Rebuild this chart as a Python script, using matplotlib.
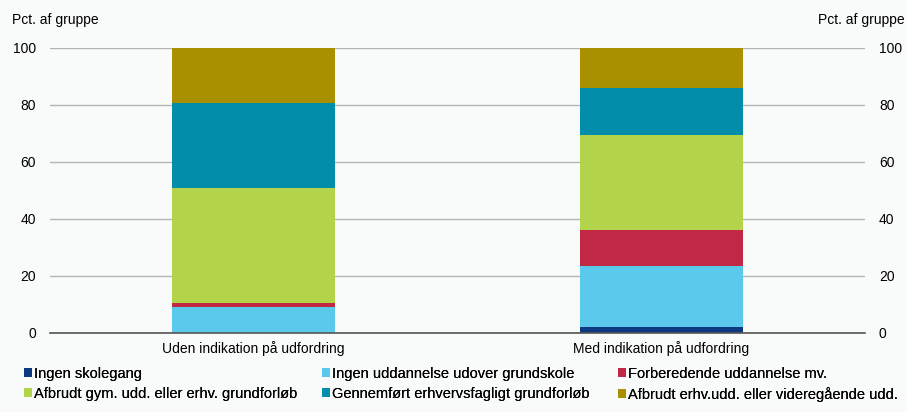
import matplotlib.pyplot as plt
import numpy as np

plt.rcParams['font.family'] = ['Liberation Sans', 'DejaVu Sans']

groups = ["Uden indikation på udfordring", "Med indikation på udfordring"]
categories = [
    "Ingen skolegang",
    "Ingen uddannelse udover grundskole",
    "Forberedende uddannelse mv.",
    "Afbrudt gym. udd. eller erhv. grundforløb",
    "Gennemført erhvervsfagligt grundforløb",
    "Afbrudt erhv.udd. eller videregående udd.",
]
uden = [0.0, 8.8, 1.6, 40.4, 29.8, 19.4]
med = [1.9, 21.3, 12.9, 33.1, 16.7, 14.1]
colors = ["#0b3a80", "#5bc9eb", "#c02846", "#b2d34a", "#028eab", "#a89000"]

bg = "#f9fafa"
fig = plt.figure(figsize=(9.07, 4.12), dpi=100, facecolor=bg)
ax = fig.add_axes([50 / 907, (412 - 332.5) / 412, 815 / 907, 285 / 412], facecolor=bg)

x = np.arange(len(groups))
values = np.array([uden, med]).T
bottom = np.zeros(len(groups))
handles = []
for cat, vals, col in zip(categories, values, colors):
    b = ax.bar(x, vals, width=0.4, bottom=bottom, color=col, label=cat, zorder=3)
    handles.append(b)
    bottom += vals

ax.set_xlim(-0.5, 1.5)
ax.set_ylim(0, 100)
ax.set_yticks(range(0, 101, 20))
ax.yaxis.grid(True, color="#b4b4b4", linewidth=1.0, zorder=0)
ax.set_xticks(x)
ax.set_xticklabels(groups, fontsize=10)
ax.tick_params(axis="x", length=0, pad=6)
ax.tick_params(axis="y", length=0, labelsize=10, pad=10, labelright=True)
for side in ["top", "left", "right"]:
    ax.spines[side].set_visible(False)
ax.spines["bottom"].set_color("#555555")
ax.spines["bottom"].set_linewidth(1.2)
ax.spines["bottom"].set_zorder(4)

fig.text(12 / 907, 1 - 20 / 412, "Pct. af gruppe", fontsize=10, va="center", ha="left")
fig.text(905 / 907, 1 - 20 / 412, "Pct. af gruppe", fontsize=10, va="center", ha="right")

# one small legend per column: rows are (0, 3), (1, 4), (2, 5)
col_x = [24, 322, 618]
for c, x0 in enumerate(col_x):
    idx = [c, c + 3]
    leg = fig.legend([handles[i] for i in idx], [categories[i] for i in idx],
                     loc="upper left", bbox_to_anchor=(x0 / 907, 1 - 367 / 412),
                     frameon=False, fontsize=10.5, handlelength=0.55, handleheight=0.55,
                     handletextpad=0.15, labelspacing=0.38,
                     borderaxespad=0, borderpad=0)
    fig.add_artist(leg)

fig.savefig("out.png", dpi=100, facecolor=bg)
